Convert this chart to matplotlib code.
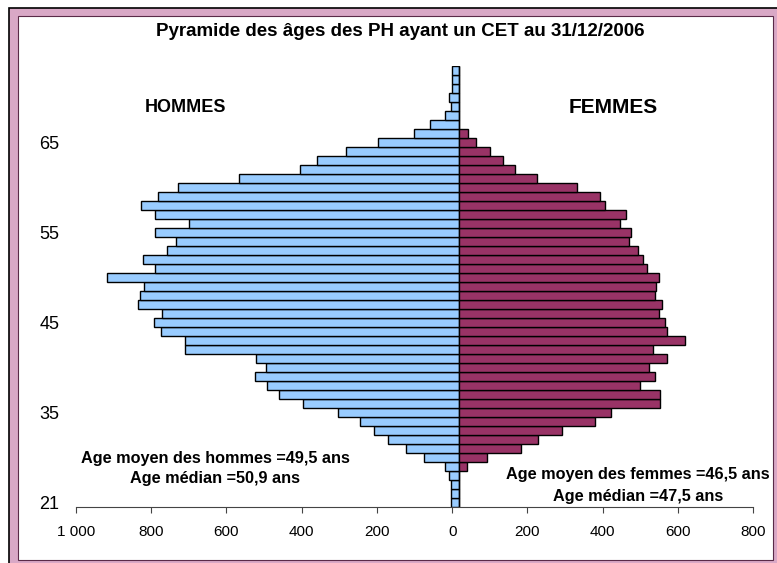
import matplotlib.pyplot as plt
from matplotlib.patches import Rectangle
from matplotlib.ticker import FuncFormatter

plt.rcParams['font.family'] = ['Liberation Sans', 'DejaVu Sans']

# age categories, bottom to top (first row is labelled 21)
ages = [21] + list(range(26, 74))

# number of PH per age, bottom to top
hommes = [20, 22, 22, 25, 37, 94, 140, 188, 226, 263,
          320, 414, 479, 509, 543, 513, 539, 727, 727, 792,
          811, 788, 852, 848, 837, 934, 807, 840, 775, 753,
          807, 716, 807, 844, 799, 746, 584, 422, 376, 300,
          214, 120, 78, 37, 22, 25, 18, 18, 18]
femmes = [0, 0, 0, 0, 22, 75, 165, 211, 274, 362,
          403, 535, 535, 482, 520, 505, 554, 516, 600, 554,
          547, 531, 539, 520, 524, 531, 501, 488, 475, 453,
          457, 427, 445, 388, 374, 314, 208, 148, 118, 83,
          46, 23, 0, 0, 0, 0, 0, 0, 0]

x_ticks = [-1000, -800, -600, -400, -200, 0, 200, 400, 600, 800]
shown_ages = [21, 35, 45, 55, 65]

title = "Pyramide des âges des PH ayant un CET au 31/12/2006"
note_h = ["Age moyen des hommes =49,5 ans", "Age médian =50,9 ans"]
note_f = ["Age moyen des femmes =46,5 ans", "Age médian =47,5 ans"]

W, H = 777, 563
BASE = 18  # bars in the original start a bit right of the zero tick

fig = plt.figure(figsize=(W / 100, H / 100), dpi=100)

# pink frame around the chart
fig.patches.append(Rectangle((9 / W, -0.01), 1.0, (H - 8) / H + 0.01,
                             transform=fig.transFigure, facecolor="#d9a8c6",
                             edgecolor="black", linewidth=1.2, zorder=-3))
fig.patches.append(Rectangle((18 / W, 3 / H), (773 - 18) / W, (560 - 16) / H,
                             transform=fig.transFigure, facecolor="white",
                             edgecolor="#5a2a48", linewidth=0.8, zorder=-2))

ax = fig.add_axes([75.8 / W, (H - 507) / H, (753.2 - 75.8) / W, (507 - 66) / H])
ax.patch.set_alpha(0)

pos = list(range(len(ages)))
ax.barh(pos, [-v for v in hommes], left=BASE, height=1.0,
        color="#99ccff", edgecolor="black", linewidth=1.0)
ax.barh(pos, femmes, left=BASE, height=1.0,
        color="#993366", edgecolor="black", linewidth=1.0)

ax.set_xlim(-1000, 800)
ax.set_ylim(-0.5, len(ages) - 0.5)

ax.set_xticks(x_ticks)
ax.xaxis.set_major_formatter(FuncFormatter(lambda v, p: f"{abs(int(v)):,}".replace(",", " ")))
ax.tick_params(axis="x", direction="out", length=4, width=0.8, color="#444444",
               labelsize=11, pad=9)

ax.set_yticks([ages.index(a) for a in shown_ages])
ax.set_yticklabels([str(a) for a in shown_ages])
ax.tick_params(axis="y", length=0, labelsize=13, pad=12)

for s in ["top", "right", "left"]:
    ax.spines[s].set_visible(False)
ax.spines["bottom"].set_color("#444444")
ax.spines["bottom"].set_linewidth(0.8)

fig.text(400 / W, 1 - 32 / H, title, ha="center", va="center",
         fontsize=13.5, fontweight="bold")
fig.text(185 / W, 1 - 108 / H, "HOMMES", ha="center", va="center",
         fontsize=13, fontweight="bold")
fig.text(613 / W, 1 - 108 / H, "FEMMES", ha="center", va="center",
         fontsize=15, fontweight="bold")

fig.text(215 / W, 1 - 458 / H, note_h[0], ha="center", va="center",
         fontsize=11.7, fontweight="bold")
fig.text(215 / W, 1 - 478 / H, note_h[1], ha="center", va="center",
         fontsize=11.7, fontweight="bold")
fig.text(638 / W, 1 - 475 / H, note_f[0], ha="center", va="center",
         fontsize=11.7, fontweight="bold")
fig.text(638 / W, 1 - 497 / H, note_f[1], ha="center", va="center",
         fontsize=11.7, fontweight="bold")

plt.savefig("out.png", dpi=100)
